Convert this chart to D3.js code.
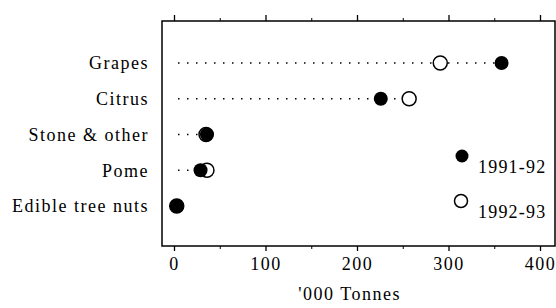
<!DOCTYPE html>
<html><head><meta charset="utf-8">
<script src="https://cdnjs.cloudflare.com/ajax/libs/d3/7.8.5/d3.min.js"></script>
<style>
body{margin:0;background:#fff;}
text{font-family:"Liberation Serif","Times New Roman",serif;fill:#000;}
</style></head>
<body><svg id="c" width="556" height="308"></svg>
<script>
const categories = ["Grapes","Citrus","Stone & other","Pome","Edible tree nuts"];
const values1991 = [358, 226, 36, 29, 3];
const values1992 = [291, 257, 35, 36, 3];
const seriesNames = ["1991-92","1992-93"];
const majorTicks = [0,100,200,300,400];
const minorTicks = [50,150,250,350];
const axisTitle = "'000 Tonnes";

const svg = d3.select("#c");
const frame = {l:162, r:555, t:21, b:246};
const x = d3.scaleLinear().domain([0,400]).range([174,540]);
const y = d3.scalePoint().domain(categories).range([63,206]);
const fs = "18px", ls = "1.5px";

// dotted guide lines
svg.append("g").selectAll("line").data(categories).join("line")
  .attr("x1", frame.l+16).attr("x2", (d,i)=>x(Math.max(values1991[i],values1992[i])))
  .attr("y1", d=>y(d)).attr("y2", d=>y(d))
  .attr("stroke","#000").attr("stroke-width",1.5).attr("stroke-dasharray","1.5,7.5");

// frame
svg.append("rect").attr("x",frame.l).attr("y",frame.t)
  .attr("width",frame.r-frame.l).attr("height",frame.b-frame.t)
  .attr("fill","none").attr("stroke","#000").attr("stroke-width",1.5);

// axes
const gBottom = svg.append("g").attr("transform",`translate(0,${frame.b})`)
  .call(d3.axisBottom(x).tickValues(majorTicks).tickSize(5).tickPadding(6).tickFormat(d3.format("d")));
gBottom.select(".domain").remove();
gBottom.selectAll("line").attr("stroke-width",1.3);
gBottom.selectAll("text").style("font-size",fs).style("letter-spacing",ls).attr("font-family",null);
const gBminor = svg.append("g").attr("transform",`translate(0,${frame.b})`)
  .call(d3.axisBottom(x).tickValues(minorTicks).tickSize(3).tickFormat(""));
gBminor.select(".domain").remove();
const gTop = svg.append("g").attr("transform",`translate(0,${frame.t})`)
  .call(d3.axisTop(x).tickValues(majorTicks).tickSize(6).tickFormat(""));
gTop.select(".domain").remove();
gTop.selectAll("line").attr("stroke-width",1.3);
const gTminor = svg.append("g").attr("transform",`translate(0,${frame.t})`)
  .call(d3.axisTop(x).tickValues(minorTicks).tickSize(3).tickFormat(""));
gTminor.select(".domain").remove();

// category labels
svg.append("g").selectAll("text").data(categories).join("text")
  .attr("x",149).attr("y",d=>y(d)).attr("dy","0.35em")
  .attr("text-anchor","end").style("font-size",fs).style("letter-spacing",ls).text(d=>d);

// points
svg.append("g").selectAll("circle").data(categories).join("circle")
  .attr("cx",(d,i)=>x(values1992[i])).attr("cy",d=>y(d)).attr("r",7)
  .attr("fill","#fff").attr("stroke","#000").attr("stroke-width",1.5);
svg.append("g").selectAll("circle").data(categories).join("circle")
  .attr("cx",(d,i)=>x(values1991[i])).attr("cy",d=>y(d)).attr("r",7)
  .attr("fill","#000");

// axis title
svg.append("text").attr("x",x(192)).attr("y",300).attr("text-anchor","middle")
  .style("font-size",fs).style("letter-spacing",ls).text(axisTitle);

// legend
const leg = svg.append("g");
leg.append("circle").attr("cx",462).attr("cy",156).attr("r",6.5).attr("fill","#000");
leg.append("text").attr("x",478).attr("y",173).style("font-size",fs).style("letter-spacing","1.2px").text(seriesNames[0]);
leg.append("circle").attr("cx",461).attr("cy",201).attr("r",6.5).attr("fill","#fff").attr("stroke","#000").attr("stroke-width",1.5);
leg.append("text").attr("x",478).attr("y",218).style("font-size",fs).style("letter-spacing","1.2px").text(seriesNames[1]);
</script></body></html>
